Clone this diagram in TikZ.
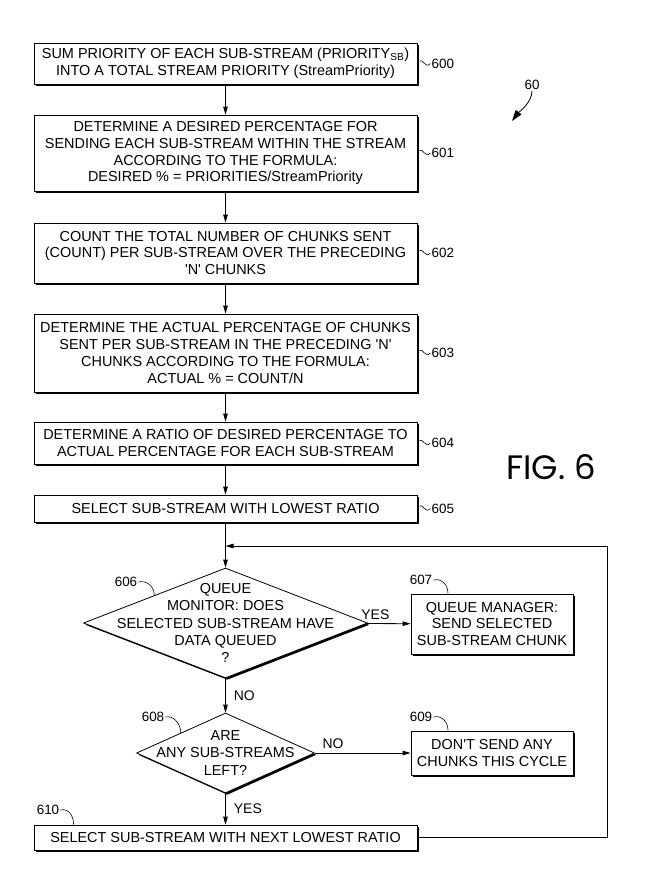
\documentclass[tikz,border=0pt]{standalone}
\usepackage{fontspec}
\setmainfont{Liberation Sans}
\newfontfamily\figfont{Poppins}
\usetikzlibrary{arrows.meta,positioning,calc,shapes.geometric,shadows}
\tikzset{
  boxshadow/.style={drop shadow={shadow xshift=1.8bp,shadow yshift=-1.8bp,
              fill=black,opacity=1}},
  stepbox/.style={draw,line width=.8bp,fill=white,boxshadow,inner sep=0pt,
              align=center,font=\fontsize{14.5}{17}\selectfont,minimum width=383bp},
  sidebox/.style={stepbox,minimum width=162bp},
  decision/.style={diamond,draw,line width=.8bp,fill=white,boxshadow,inner sep=0pt},
  dtext/.style={align=center,font=\fontsize{14.5}{17.5}\selectfont},
  refnum/.style={font=\fontsize{13.5}{14}\selectfont,inner sep=1bp},
  tilde/.style={line width=.6bp,shorten <=3bp},
  leader/.style={line width=.6bp},
  flow/.style={-{Triangle[length=8bp,width=4.5bp]},line width=.8bp},
  lbl/.style={font=\fontsize{14}{14}\selectfont,inner sep=1bp},
}
\begin{document}
\begin{tikzpicture}[x=1bp,y=-1bp]
  \useasboundingbox (0,0) rectangle (646,871);
  % main column
  \node[stepbox,minimum height=41bp] (b600) at (225.5,63.5)
    {SUM PRIORITY OF EACH SUB-STREAM (PRIORITY\textsubscript{SB})\\
     INTO A TOTAL STREAM PRIORITY (StreamPriority)};
  \node[stepbox,minimum height=76bp] (b601) at (225.5,153)
    {DETERMINE A DESIRED PERCENTAGE FOR\\
     SENDING EACH SUB-STREAM WITHIN THE STREAM\\
     ACCORDING TO THE FORMULA:\\
     DESIRED \% = PRIORITIES/StreamPriority};
  \node[stepbox,minimum height=60bp] (b602) at (225.5,253)
    {COUNT THE TOTAL NUMBER OF CHUNKS SENT\\
     (COUNT) PER SUB-STREAM OVER THE PRECEDING\\
     \textquotesingle N\textquotesingle{} CHUNKS};
  \node[stepbox,minimum height=78bp] (b603) at (225.5,353)
    {DETERMINE THE ACTUAL PERCENTAGE OF CHUNKS\\
     SENT PER SUB-STREAM IN THE PRECEDING \textquotesingle N\textquotesingle\\
     CHUNKS ACCORDING TO THE FORMULA:\\
     ACTUAL \% = COUNT/N};
  \node[stepbox,minimum height=42bp] (b604) at (225.5,443)
    {DETERMINE A RATIO OF DESIRED PERCENTAGE TO\\
     ACTUAL PERCENTAGE FOR EACH SUB-STREAM};
  \node[stepbox,minimum height=27bp] (b605) at (225.5,508.5)
    {SELECT SUB-STREAM WITH LOWEST RATIO};
  \node[decision,minimum width=284bp,minimum height=110bp,
        label={[dtext]center:QUEUE\\MONITOR: DOES\\SELECTED SUB-STREAM HAVE\\DATA QUEUED\\?}]
    (d606) at (225.5,623) {};
  \node[sidebox,minimum height=60bp] (b607) at (492,624)
    {QUEUE MANAGER:\\SEND SELECTED\\SUB-STREAM CHUNK};
  \node[decision,minimum width=178bp,minimum height=80bp,
        label={[dtext]center:ARE\\ANY SUB-STREAMS\\LEFT?}]
    (d608) at (225.5,753) {};
  \node[sidebox,minimum height=44bp] (b609) at (492,753)
    {DON\textquotesingle T SEND ANY\\CHUNKS THIS CYCLE};
  \node[stepbox,minimum height=25bp] (b610) at (225.5,837.5)
    {SELECT SUB-STREAM WITH NEXT LOWEST RATIO};

  % flow
  \draw[flow] (b600) -- (b601);
  \draw[flow] (b601) -- (b602);
  \draw[flow] (b602) -- (b603);
  \draw[flow] (b603) -- (b604);
  \draw[flow] (b604) -- (b605);
  \draw[flow] (b605) -- (d606);
  \draw[flow] (d606) -- node[lbl,pos=.2,above=3bp]{YES} (b607);
  \draw[flow] (d606) -- node[lbl,right=7bp]{NO} (d608);
  \draw[flow] (d608) -- node[lbl,pos=.19,above=3bp]{NO} (b609);
  \draw[flow] (d608) -- node[lbl,right=7bp]{YES} (b610);
  \coordinate (join) at (225.5,546);
  \coordinate (loopR) at (607,546);
  \draw[line width=.8bp] (b610.east) -| (loopR);
  \draw[flow] (loopR) -- (join);

  % reference numerals
  \foreach \n in {600,...,605}{
    \node[refnum,right=13bp of b\n.east] (n\n) {\n};
    \draw[tilde] (b\n.east) .. controls +(5,-6) and +(-5,6) .. (n\n.west);
  }
  \node[refnum] (n606) at (126,582) {606};
  \draw[leader] (n606.east) .. controls +(8,-2) and +(0,-9) .. ($(d606.west)!.5!(d606.north)$);
  \node[refnum] (n607) at (421,580) {607};
  \draw[leader] (n607.east) .. controls +(8,-2) and +(0,-9) .. ($(b607.north)+(-44,0)$);
  \node[refnum] (n608) at (153,717) {608};
  \draw[leader] (n608.east) .. controls +(8,-2) and +(0,-9) .. ($(d608.west)!.5!(d608.north)$);
  \node[refnum] (n609) at (421,717) {609};
  \draw[leader] (n609.east) .. controls +(8,-2) and +(0,-9) .. ($(b609.north)+(-44,0)$);
  \node[refnum] (n610) at (48,810) {610};
  \draw[leader] (n610.east) .. controls +(8,-2) and +(0,-9) .. ($(b610.north west)+(40,0)$);

  % figure number
  \node[refnum] (n60) at (532,85) {60};
  \coordinate (p60) at (512,121);
  \draw[-{Triangle[length=11bp,width=7bp]},line width=.8bp]
    (n60.south) .. controls +(0,12) and +(6,-8) .. (p60);
  \node[font=\figfont\fontsize{34}{34}\selectfont] (fig) at (551,467) {FIG. 6};
\end{tikzpicture}
\end{document}
